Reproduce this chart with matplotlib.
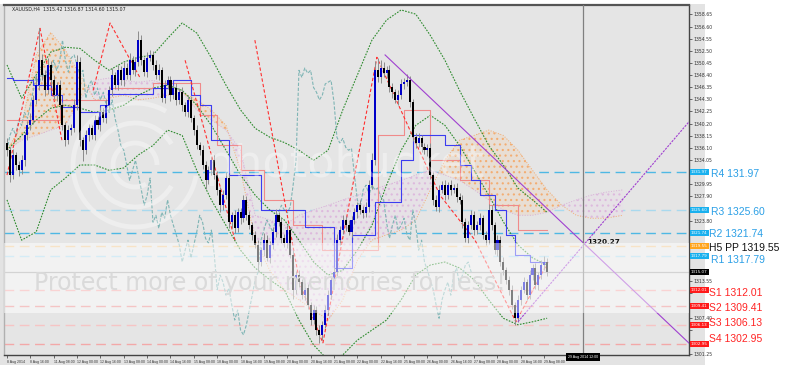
import matplotlib
matplotlib.use('Agg')
import matplotlib.pyplot as plt
import numpy as np
from matplotlib.patches import Rectangle, Arc
from matplotlib.transforms import IdentityTransform

# ---------------- data ----------------
first_open = 1337.0
close = [
    1335.7, 1331.5, 1334.9, 1333.2, 1332.3, 1334.0, 1338.2, 1339.9, 1340.8, 1344.2,
    1346.7, 1350.9, 1348.4, 1345.8, 1350.1, 1347.5, 1345.0, 1346.7, 1343.3, 1339.9,
    1337.4, 1339.1, 1339.4, 1343.3, 1350.6, 1337.4, 1335.7, 1338.2, 1339.4, 1338.2,
    1340.8, 1339.9, 1342.1, 1341.1, 1343.3, 1345.8, 1348.4, 1346.7, 1349.2, 1347.5,
    1349.6, 1348.4, 1350.9, 1349.2, 1350.6, 1354.3, 1350.9, 1348.9, 1351.3, 1351.8,
    1350.1, 1348.4, 1349.2, 1344.5, 1346.7, 1347.5, 1345.0, 1346.2, 1344.2, 1345.5,
    1343.3, 1342.1, 1344.2, 1341.1, 1339.1, 1336.5, 1335.7, 1333.2, 1330.6, 1332.3,
    1334.0, 1331.5, 1329.0, 1326.4, 1328.1, 1331.0, 1323.5, 1324.7, 1322.5, 1325.2,
    1324.2, 1327.3, 1324.7, 1323.0, 1321.4, 1319.7, 1316.8, 1318.8, 1320.5, 1317.5,
    1319.7, 1321.9, 1324.7, 1323.5, 1320.8, 1320.0, 1322.2, 1318.0, 1312.1, 1314.6,
    1313.4, 1311.2, 1312.4, 1309.5, 1307.0, 1308.7, 1305.3, 1304.5, 1306.2, 1308.7,
    1311.2, 1313.8, 1315.1, 1320.5, 1322.2, 1323.9, 1323.0, 1321.9, 1323.9, 1325.2,
    1326.4, 1325.6, 1325.1, 1326.1, 1329.8, 1334.0, 1349.2, 1348.0, 1349.6, 1348.7,
    1349.2, 1346.3, 1345.5, 1344.2, 1345.0, 1346.9, 1347.2, 1347.5, 1343.8, 1337.9,
    1336.9, 1337.7, 1336.2, 1335.7, 1336.0, 1331.5, 1327.3, 1326.1, 1329.0, 1329.8,
    1328.1, 1329.8, 1329.0, 1329.3, 1327.8, 1327.3, 1323.5, 1320.8, 1323.0, 1324.7,
    1322.2, 1323.0, 1324.2, 1321.4, 1320.5, 1325.6, 1323.0, 1318.8, 1320.5, 1316.8,
    1315.4, 1313.8, 1312.1, 1309.5, 1307.3, 1310.4, 1312.1, 1313.4, 1311.2, 1314.6,
    1315.8, 1312.9, 1314.6, 1316.3, 1316.8, 1315.1,
]
upper_wick = [
    0.8, 0.6, 1.0, 0.5, 0.7, 0.9, 0.6, 0.8, 1.2, 0.9,
    1.5, 5.4, 1.0, 0.8, 1.2, 0.7, 0.9, 0.6, 0.8, 0.5,
    0.6, 0.9, 0.7, 1.0, 1.2, 0.8, 0.6, 0.9, 0.7, 0.5,
    0.8, 0.6, 0.9, 0.7, 1.0, 0.8, 1.2, 0.6, 0.9, 0.7,
    1.0, 0.8, 1.3, 0.7, 0.9, 1.5, 0.8, 0.6, 1.0, 0.9,
    0.7, 0.8, 1.0, 0.6, 0.9, 0.7, 0.8, 0.6, 0.9, 0.7,
    0.8, 0.6, 0.9, 0.7, 0.5, 0.8, 0.6, 0.9, 0.7, 0.8,
    0.6, 0.9, 0.7, 0.5, 0.8, 1.0, 0.7, 0.6, 0.9, 0.8,
    0.7, 0.9, 0.6, 0.8, 0.5, 0.7, 0.9, 0.6, 1.2, 0.8,
    0.7, 0.9, 1.0, 0.6, 0.8, 0.7, 0.9, 0.6, 0.8, 0.7,
    0.9, 0.6, 0.8, 0.7, 0.5, 0.9, 0.6, 0.8, 0.7, 0.9,
    0.8, 0.6, 0.9, 1.0, 0.7, 0.8, 0.6, 0.9, 0.7, 0.8,
    0.6, 0.9, 0.7, 0.8, 0.9, 1.2, 1.5, 2.0, 1.4, 1.0,
    0.8, 0.9, 0.7, 0.6, 0.8, 0.9, 0.7, 1.0, 0.8, 0.6,
    0.7, 0.9, 0.6, 0.8, 0.7, 0.9, 0.6, 0.8, 0.9, 0.7,
    0.8, 0.6, 0.9, 0.7, 0.8, 0.6, 0.9, 0.7, 0.8, 0.9,
    0.7, 0.8, 0.9, 0.6, 0.7, 1.0, 0.8, 0.6, 0.9, 0.7,
    0.8, 0.6, 0.7, 0.9, 0.6, 0.8, 0.7, 0.9, 0.6, 0.8,
    0.7, 0.9, 0.6, 0.8, 1.0, 0.7,
]
lower_wick = [
    0.9, 1.2, 0.7, 0.8, 1.0, 0.6, 0.9, 0.7, 0.8, 0.6,
    0.7, 0.9, 0.8, 1.0, 0.6, 0.8, 0.7, 0.9, 0.6, 0.8,
    1.0, 0.7, 0.9, 0.6, 0.8, 1.0, 1.8, 0.7, 0.9, 0.6,
    0.8, 0.7, 0.9, 0.6, 0.8, 0.7, 0.9, 0.6, 0.8, 0.7,
    0.9, 0.6, 0.8, 0.7, 0.9, 0.6, 0.8, 0.7, 0.9, 0.6,
    0.8, 0.7, 0.9, 0.6, 0.8, 0.7, 0.9, 0.6, 0.8, 0.7,
    0.9, 0.6, 0.8, 0.7, 0.9, 0.6, 0.8, 0.7, 1.5, 0.6,
    0.8, 0.7, 0.9, 1.2, 0.8, 0.7, 0.9, 1.0, 0.8, 0.7,
    0.9, 0.6, 0.8, 0.7, 0.9, 0.6, 1.5, 0.7, 0.9, 0.6,
    0.8, 0.7, 0.9, 0.6, 0.8, 0.7, 0.9, 0.6, 1.5, 0.7,
    0.9, 0.6, 0.8, 0.7, 0.9, 0.6, 0.8, 1.3, 0.9, 0.6,
    0.8, 0.7, 0.9, 0.6, 0.8, 0.7, 0.9, 0.6, 0.8, 0.7,
    0.9, 0.6, 0.8, 0.7, 0.9, 0.6, 0.8, 0.7, 0.9, 0.6,
    0.8, 0.7, 0.9, 0.6, 0.8, 0.7, 0.9, 0.6, 0.8, 0.7,
    0.9, 0.6, 0.8, 0.7, 0.9, 0.6, 0.8, 0.7, 0.9, 0.6,
    0.8, 0.7, 0.9, 0.6, 0.8, 0.7, 0.9, 0.6, 0.8, 0.7,
    0.9, 0.6, 0.8, 0.7, 0.9, 0.6, 0.8, 0.7, 0.9, 0.6,
    0.8, 0.7, 0.9, 0.6, 1.2, 0.7, 0.9, 0.6, 0.8, 0.7,
    0.9, 0.6, 0.8, 0.7, 0.9, 0.6,
]

# Bollinger bands, sampled every 5 bars
bb_bars = [0, 5, 10, 15, 20, 25, 30, 35, 40, 45, 50, 55, 60, 65, 70, 75, 80, 85, 90,
           95, 100, 105, 110, 115, 120, 125, 130, 135, 140, 145, 150, 155, 160, 165,
           170, 175, 180, 185]
bb_upper = [1350.1, 1344.5, 1348.4, 1352.3, 1353.1, 1352.9, 1350.9, 1349.2, 1350.6,
            1351.4, 1351.8, 1354.6, 1357.2, 1355.5, 1351.3, 1346.7, 1342.5, 1339.4,
            1337.9, 1337.0, 1335.7, 1334.0, 1335.7, 1342.5, 1348.4, 1354.3, 1357.7,
            1359.4, 1358.7, 1355.1, 1350.9, 1345.8, 1341.1, 1336.5, 1333.2, 1329.3,
            1327.3, 1325.2]
bb_middle = [1335.7, 1338.2, 1340.8, 1342.8, 1343.3, 1342.8, 1342.1, 1342.5, 1343.3,
             1345.0, 1346.2, 1346.7, 1345.8, 1343.3, 1339.9, 1335.7, 1331.5, 1328.1,
             1325.6, 1323.9, 1320.5, 1316.8, 1314.6, 1315.4, 1318.8, 1323.0, 1329.8,
             1335.7, 1339.9, 1341.6, 1339.9, 1336.5, 1332.3, 1328.1, 1323.6, 1319.7,
             1317.5, 1316.3]
bb_lower = [1327.3, 1320.5, 1321.9, 1329.0, 1331.0, 1333.2, 1333.2, 1332.3, 1332.7,
            1334.9, 1336.5, 1339.1, 1338.2, 1332.3, 1327.3, 1323.0, 1318.8, 1315.8,
            1313.8, 1312.1, 1307.0, 1302.8, 1300.2, 1301.1, 1303.6, 1305.3, 1307.0,
            1310.4, 1314.6, 1316.3, 1316.8, 1315.8, 1313.8, 1310.4, 1307.3, 1306.2,
            1306.7, 1307.3]

# Ichimoku
tenkan_bars = [0, 2, 9, 15, 19, 25, 32, 35, 50, 57, 63, 66, 70, 76, 87, 102, 112, 118,
               126, 135, 139, 150, 155, 159, 162, 167, 171, 174, 179, 185]
tenkan = [1347.9, 1347.5, 1346.7, 1345.0, 1343.0, 1342.1, 1343.3, 1345.2, 1346.2,
          1347.5, 1345.0, 1343.3, 1337.4, 1331.5, 1325.6, 1322.7, 1315.8, 1321.4,
          1326.9, 1334.0, 1338.2, 1336.5, 1333.2, 1330.6, 1328.1, 1325.6, 1321.4,
          1318.0, 1316.8, 1316.8]
kijun_bars = [0, 18, 35, 50, 66, 72, 80, 88, 98, 108, 118, 127, 136, 145, 155, 165,
              175, 185]
kijun = [1340.8, 1344.2, 1346.2, 1347.1, 1341.6, 1336.5, 1332.3, 1327.3, 1323.0,
         1318.8, 1318.8, 1338.2, 1342.5, 1334.0, 1330.6, 1326.4, 1322.2, 1322.2]
chikou_shift = 26
cloud_bars = [0, 5, 10, 15, 20, 25, 30, 35, 40, 45, 50, 55, 60, 65, 70, 75, 80, 85, 90,
              95, 100, 105, 110, 115, 120, 125, 130, 135, 140, 145, 150, 155, 160, 165,
              170, 175, 180, 185, 190, 195, 200, 205, 211]
span_a = [1335.7, 1339.9, 1351.8, 1355.6, 1352.6, 1348.4, 1344.2, 1344.5, 1345.0,
          1344.2, 1344.5, 1345.0, 1345.5, 1344.2, 1342.5, 1339.9, 1332.3, 1320.5,
          1315.4, 1312.1, 1310.4, 1308.7, 1307.0, 1310.4, 1317.1, 1320.5, 1321.4,
          1322.2, 1323.9, 1329.0, 1334.0, 1337.4, 1338.2, 1339.1, 1338.2, 1335.7,
          1332.3, 1329.0, 1326.4, 1324.7, 1324.2, 1324.2, 1324.7]
span_b = [1335.7, 1337.4, 1338.2, 1339.1, 1339.9, 1344.2, 1347.5, 1347.9, 1347.5,
          1347.2, 1347.5, 1346.7, 1345.5, 1342.5, 1340.8, 1339.1, 1335.7, 1324.7,
          1323.9, 1323.0, 1324.7, 1325.6, 1326.4, 1327.3, 1328.1, 1329.0, 1329.8,
          1330.6, 1331.5, 1332.3, 1331.5, 1330.6, 1329.0, 1327.3, 1325.6, 1324.7,
          1324.7, 1325.2, 1326.4, 1327.3, 1328.1, 1328.6, 1329.0]

# red dashed swing lines (bar, price)
swing_lines = [
    ([0, 11.3, 18.8], [1331.5, 1356.3, 1337.4]),
    ([29.5, 35.3, 45.5], [1345.8, 1357.2, 1348.0]),
    ([61, 78.1], [1350.9, 1320.5]),
    ([84.9, 100.3, 108.2], [1354.3, 1313.2, 1303.1]),
    ([108.2, 126.7, 138, 148.3, 160.3, 174.3, 185.3],
     [1303.1, 1351.4, 1339.1, 1328.1, 1320.5, 1306.7, 1316.8]),
]
# trend lines (bar, price)
trend_down = ([129.5, 233.6], [1351.8, 1303.1])
trend_up = ([175.0, 240.0], [1306.7, 1344.2])
cross_bar = 197.3
cross_price = 1320.27
current_price = 1315.07

pivot_names = ["R4", "R3", "R2", "H5 PP", "R1", "S1", "S2", "S3", "S4"]
pivot_values = [1331.97, 1325.60, 1321.74, 1319.55, 1317.79, 1312.01, 1309.41, 1306.13, 1302.95]
pivot_texts = ["R4 131.97", "R3 1325.60", "R2 1321.74", "H5 PP 1319.55", "R1 1317.79",
               "S1 1312.01", "S2 1309.41", "S3 1306.13", "S4 1302.95"]

price_ticks = [1358.65 - 2.05 * k for k in range(29)]
time_tick_bars = [8 * k for k in range(24)]
time_labels = ["8 Aug 2014", "8 Aug 16:00", "11 Aug 08:00", "12 Aug 00:00", "12 Aug 16:00",
               "13 Aug 08:00", "14 Aug 00:00", "14 Aug 16:00", "15 Aug 08:00", "18 Aug 00:00",
               "18 Aug 16:00", "19 Aug 08:00", "20 Aug 00:00", "20 Aug 16:00", "21 Aug 08:00",
               "22 Aug 00:00", "22 Aug 16:00", "25 Aug 08:00", "26 Aug 00:00", "26 Aug 16:00",
               "27 Aug 08:00", "28 Aug 00:00", "28 Aug 16:00", "29 Aug 08:00"]
cross_time = "29 Aug 2014 12:00"

# ---------------- figure ----------------
W, H = 800, 371
fig = plt.figure(figsize=(8, 3.71), dpi=100, facecolor='white')
fig.patches.append(Rectangle((0, 1 - 365 / H), 705 / W, 361 / H, transform=fig.transFigure,
                             facecolor='#e3e3e3', edgecolor='none', zorder=-5))

ax = fig.add_axes([4 / W, 1 - 355 / H, 685 / W, 350 / H])
ax.set_facecolor('#e5e5e5')
ax.set_xlim(-1.03, 233.6)
ax.set_ylim(1301.09, 1360.24)

n = len(close)
idx = np.arange(n)
c = np.array(close)
o = np.concatenate([[first_open], c[:-1]])
hi = np.maximum(o, c) + np.array(upper_wick)
lo = np.minimum(o, c) - np.array(lower_wick)

# pivot lines
pivot_line_colors = ['#4fb8e4', '#a9d9ee', '#4fb8e4', '#f0c890', '#a9d9ee',
                     '#f3a8a8', '#e98a8a', '#f6c4c4', '#f3a8a8']
for v, col in zip(pivot_values, pivot_line_colors):
    ax.axhline(v, color=col, lw=1.0, ls=(0, (7, 4)), zorder=1)

# cloud (dotted, MT4 style)
sa = np.array(span_a); sb = np.array(span_b); cb = np.array(cloud_bars)
plt.rcParams['hatch.linewidth'] = 0.8
ax.fill_between(cb, sa, sb, where=sa >= sb, interpolate=True, facecolor='#e8ded4',
                edgecolor='#f3ad72', hatch='...', lw=0, zorder=1.5)
ax.fill_between(cb, sa, sb, where=sa < sb, interpolate=True, facecolor='#e6e1e6',
                edgecolor='#ddb9dd', hatch='...', lw=0, zorder=1.5)
ax.plot(cb, sa, color='#f3ad72', lw=0.7, ls=':', zorder=1.6)
ax.plot(cb, sb, color='#d8b0d8', lw=0.7, ls=':', zorder=1.6)

# bollinger
for band in (bb_upper, bb_middle, bb_lower):
    ax.plot(bb_bars, band, color='#2e8b2e', lw=0.8, ls=(0, (1.5, 1.2)), zorder=2)

# chikou
ax.plot(idx[chikou_shift:] - chikou_shift, c[chikou_shift:], color='#7fb5b5', lw=0.8,
        ls=(0, (3, 1.5)), zorder=2)
# kijun, tenkan
ax.step(kijun_bars, kijun, where='post', color='#f08a8a', lw=0.8, zorder=2.2)
ax.step(tenkan_bars, tenkan, where='post', color='#3c3cf0', lw=0.8, zorder=2.3)

# swing lines
for xs, ys in swing_lines:
    ax.plot(xs, ys, color='#ff3030', lw=0.8, ls=(0, (3, 2)), zorder=2.4)

# candles
ax.vlines(idx, lo, hi, color='#8c8c8c', lw=0.7, zorder=3)
body_col = ['#0000c8' if cc >= oo else '#000000' for oo, cc in zip(o, c)]
heights = np.where(np.abs(c - o) < 0.15, 0.15, c - o)
ax.bar(idx, heights, bottom=o, width=0.7, color=body_col, lw=0, zorder=3.2)

# trend lines
ax.plot(*trend_down, color='#a040d0', lw=0.8, zorder=3.5)
ax.plot(*trend_up, color='#a040d0', lw=0.8, ls=(0, (2, 1)), zorder=3.5)

# current price / crosshair
ax.axhline(current_price, color='#a8a8a8', lw=0.9, zorder=1.2)
ax.axvline(cross_bar, color='#808080', lw=0.9, zorder=3.6)
ax.text(cross_bar + 1.5, cross_price, f"{cross_price:.2f}", fontsize=5.2, fontweight='bold',
        color='#111111', va='center', ha='left', zorder=4)

# axes styling; tick labels hidden behind the coloured tags are left out
tag_values = pivot_values + [current_price]
shown = [p for p in price_ticks if min(abs(p - t) for t in tag_values) > 1.15]
ax.yaxis.tick_right()
ax.set_yticks(price_ticks)
ax.set_yticklabels([f"{p:.2f}" if p in shown else "" for p in price_ticks])
ax.tick_params(axis='y', length=2, width=0.5, pad=1, labelsize=3.3, colors='#333333')
ax.set_xticks(time_tick_bars)
ax.set_xticklabels(time_labels, family='Liberation Sans')
for t in ax.get_xticklabels():
    t.set_horizontalalignment('left')
ax.tick_params(axis='x', length=2.5, width=0.5, pad=1, labelsize=2.5, colors='#333333')
for s, col, lw in (('left', '#b0b0b0', 1.0), ('top', '#555555', 1.6),
                   ('right', '#444444', 1.0), ('bottom', '#444444', 1.0)):
    ax.spines[s].set_color(col)
    ax.spines[s].set_linewidth(lw)

# axis tags
tag_colors = ['#19b0ee', '#19b0ee', '#19b0ee', '#ffa41c', '#19b0ee',
              '#ff1a1a', '#ff1a1a', '#ff1a1a', '#ff1a1a']
ytr = ax.get_yaxis_transform()
for v, col in zip(pivot_values, tag_colors):
    ax.text(1.003, v, f"{v:.2f}", transform=ytr, fontsize=3.0, color='white', va='center',
            ha='left', zorder=6, clip_on=False,
            bbox=dict(boxstyle='square,pad=0.25', facecolor=col, edgecolor='none'))
ax.text(1.003, current_price, f"{current_price:.2f}", transform=ytr, fontsize=3.0,
        color='white', va='center', ha='left', zorder=6, clip_on=False,
        bbox=dict(boxstyle='square,pad=0.25', facecolor='#000000', edgecolor='none'))
ax.text(cross_bar, 1301.09, cross_time, fontsize=2.6, family='Liberation Sans',
        color='white', ha='center', va='top', zorder=6, clip_on=False,
        bbox=dict(boxstyle='square,pad=0.5', facecolor='#000000', edgecolor='none'))

# right-side pivot labels (pixel positions)
label_colors = ['#2a9fe6', '#2a9fe6', '#2a9fe6', '#111111', '#2a9fe6',
                '#ff2424', '#ff2424', '#ff2424', '#ff2424']
label_x = [711, 711, 709, 709, 711, 709, 709, 709, 709]
label_y = [174.3, 212, 234.3, 248, 260, 292.7, 307.7, 323.3, 339.3]
for txt, col, lx, ly in zip(pivot_texts, label_colors, label_x, label_y):
    fig.text(lx / W, 1 - ly / H, txt, fontsize=7.5, family='Liberation Sans', color=col,
             va='center', ha='left', zorder=6)

# header
fig.text(12 / W, 1 - 9 / H, "XAUUSD,H4  1315.42 1316.87 1314.60 1315.07", fontsize=3.4,
         color='#222222', va='center', ha='left')

# watermark
fig.add_artist(Rectangle((4 / W, 1 - 313 / H), 685 / W, 70 / H, transform=fig.transFigure,
                         facecolor='white', edgecolor='none', alpha=0.5, zorder=5))
fig.text(270 / W, 1 - 283 / H, "Protect more of your memories for less!", fontsize=17,
         color='#dadada', ha='center', va='center', zorder=6)
fig.text(345 / W, 1 - 165 / H, "photobucket", fontsize=32, color='white', alpha=0.35,
         ha='center', va='center', zorder=6)
for r, t1, t2 in ((22, 0, 300), (42, 30, 330), (62, 60, 350)):
    fig.add_artist(Arc((135, H - 165), 2 * r, 2 * r, theta1=t1, theta2=t2,
                       transform=IdentityTransform(), color='white', alpha=0.35, lw=3.5,
                       zorder=6))

fig.savefig('out.png', dpi=100, facecolor='white')
